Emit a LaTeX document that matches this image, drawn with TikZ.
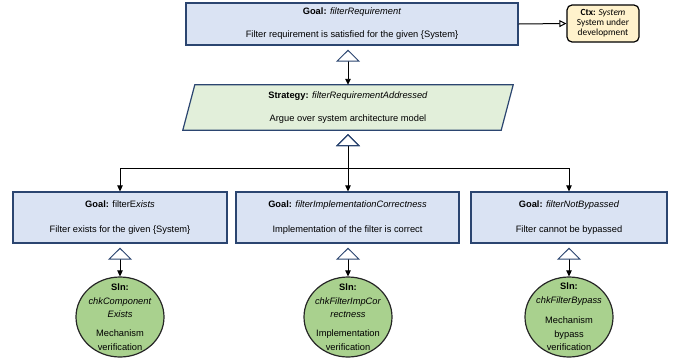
\documentclass[tikz,border=0pt]{standalone}
\usepackage{fontspec}
\setmainfont{Liberation Sans}
\newfontfamily\ctxfont{Carlito}
\usetikzlibrary{arrows.meta,shapes.geometric,backgrounds}

\definecolor{goalfill}{HTML}{DAE3F3}
\definecolor{goalline}{HTML}{2B4570}
\definecolor{stratfill}{HTML}{E2EFDA}
\definecolor{ctxfill}{HTML}{FFF2CC}
\definecolor{slnfill}{HTML}{A9D18E}

\begin{document}
\begin{tikzpicture}[x=1bp,y=-1bp,
  every node/.style={font=\fontsize{9.3bp}{11bp}\selectfont, inner sep=0pt},
  goal/.style={draw=goalline, fill=goalfill, line width=1.2bp, align=center},
  stratbox/.style={draw=goalline, fill=stratfill, line width=1.2bp},
  ctxbox/.style={draw=black, fill=ctxfill, line width=1.2bp, rounded corners=5bp,
    align=center, font=\ctxfont\fontsize{9.4bp}{10bp}\selectfont},
  sln/.style={draw=black!85, fill=slnfill, line width=1.2bp, ellipse,
    minimum width=88bp, minimum height=80bp},
  slntext/.style={align=center, font=\fontsize{9.3bp}{13.8bp}\selectfont},
  supp/.style={draw=black, line width=0.9bp, shorten <=4bp,
    {Triangle[open, length=12bp, width=24bp, line width=1bp, color=goalline, fill=white]}-{Triangle[length=6bp, width=5.5bp]}},
  incontext/.style={draw=black, line width=1bp, -{Triangle[open, length=7bp, width=7bp]}}
]
\useasboundingbox (0,0) rectangle (675,360);

% top-level goal and its context
\node[goal, minimum width=332bp, minimum height=42bp] (top) at (352,24)
  {\textbf{Goal:} \textit{filterRequirement}\\[12bp]
   Filter requirement is satisfied for the given \{System\}};
\node[ctxbox, minimum width=72bp, minimum height=37bp] (ctx) at (603,23.5)
  {\textbf{Ctx:} \textit{System}\\ System under\\ development};

% strategy (parallelogram drawn behind its text)
\node[align=center, minimum width=318bp, minimum height=45bp] (strat) at (348,107.5)
  {\textbf{Strategy:} \textit{filterRequirementAddressed}\\[12bp]
   Argue over system architecture model};
\begin{scope}[on background layer]
  \path[stratbox] ([xshift=6bp]strat.north west) -- ([xshift=6bp]strat.north east)
    -- ([xshift=-6bp]strat.south east) -- ([xshift=-6bp]strat.south west) -- cycle;
\end{scope}

% sub-goals
\node[goal, minimum width=214bp, minimum height=51bp] (g1) at (120,217.5)
  {\textbf{Goal:} filterE\textit{xists}\\[14bp] Filter exists for the given \{System\}};
\node[goal, minimum width=223bp, minimum height=51bp] (g2) at (347.5,217.5)
  {\textbf{Goal:} \textit{filterImplementationCorrectness}\\[14bp] Implementation of the filter is correct};
\node[goal, minimum width=196bp, minimum height=51bp] (g3) at (569,217.5)
  {\textbf{Goal:} \textit{filterNotBypassed}\\[14bp] Filter cannot be bypassed};

% solutions
\node[sln] (s1) at (120,317) {};
\node[slntext] (s1t) at (s1.center)
  {\textbf{Sln:}\\ \textit{chkComponent}\\ \textit{Exists}\\[5bp] Mechanism\\ verification};
\node[sln] (s2) at (348,317) {};
\node[slntext] (s2t) at (s2.center)
  {\textbf{Sln:}\\ \textit{chkFilterImpCor}\\ \textit{rectness}\\[5bp] Implementation\\ verification};
\node[sln] (s3) at (569,317) {};
\node[slntext] (s3t) at (s3.center)
  {\textbf{Sln:}\\ \textit{chkFilterBypass}\\[6bp] Mechanism\\ bypass\\ verification};

% connectors
\coordinate (split) at (348,168);
\draw[incontext] (top.east) -- (ctx.west);
\draw[supp] (top.south -| strat.north) -- (strat.north);
\draw[supp] (strat.south) -- (split) -| (g1.north);
\draw[supp] (strat.south) -- (g2.north -| strat.south);
\draw[supp] (strat.south) -- (split) -| (g3.north);
\draw[supp] (g1.south) -- (s1.north);
\draw[supp] (g2.south -| s2.north) -- (s2.north);
\draw[supp] (g3.south) -- (s3.north);
\end{tikzpicture}
\end{document}
